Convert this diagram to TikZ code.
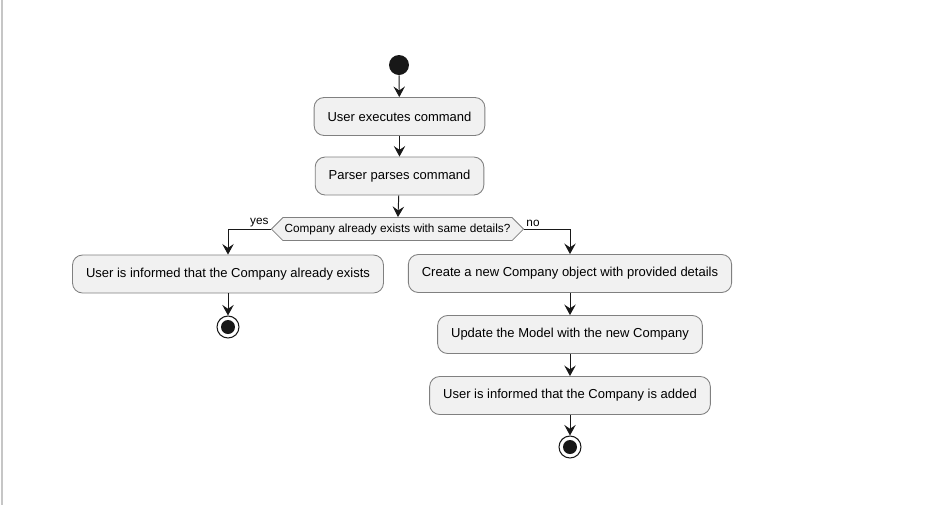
\documentclass[tikz,border=0pt]{standalone}
\usepackage{fontspec}
\setmainfont{Liberation Sans}
\usetikzlibrary{arrows.meta,shapes.symbols}
\definecolor{actfill}{HTML}{F1F1F1}
\definecolor{actline}{HTML}{181818}

\begin{document}
\begin{tikzpicture}[x=0.02cm,y=-0.02cm,
	act/.style={draw=actline!55, fill=actfill, rounded corners=0.2cm, inner xsep=0.27cm, minimum height=0.76cm, line width=0.5pt, font=\fontsize{7.4}{9}\selectfont},
	decision/.style={draw=actline!55, fill=actfill, signal, signal to=west and east, inner xsep=1pt, inner ysep=1pt, minimum height=0.46cm, line width=0.5pt, font=\fontsize{6.7}{8}\selectfont},
	flow/.style={draw=actline, line width=0.55pt, -{Stealth[length=6pt, width=6.5pt, inset=2.2pt]}},
	startdot/.style={circle, fill=actline, minimum size=0.4cm, inner sep=0pt},
	enddot/.style={circle, draw=actline, line width=0.6pt, fill=white, minimum size=0.44cm, inner sep=0pt,
		path picture={\fill[actline] (path picture bounding box.center) circle (0.14cm);}},
	guard/.style={font=\fontsize{6.7}{8}\selectfont, inner sep=1pt}]
		%%%%% frame %%%%%
		\useasboundingbox (0,0) rectangle (938,505);
		\draw[gray!45, line width=0.7pt] (2,0) -- (2,505);
		
		%%%%% main line %%%%%
		\node[startdot] (start) at (399,65) {};
		\node[act] (exec) at (399.5,116.5) {User executes command};
		\node[act] (parse) at (399.5,176) {Parser parses command};
		\node[decision] (check) at (397.5,229) {Company already exists with same details?};
		
		%%%%% yes branch %%%%%
		\node[act] (exists) at (228,274) {User is informed that the Company already exists};
		\node[enddot] (endyes) at (228,327) {};
		
		%%%%% no branch %%%%%
		\node[act] (create) at (570,273.5) {Create a new Company object with provided details};
		\node[act] (update) at (570,334.5) {Update the Model with the new Company};
		\node[act] (added) at (570,395.5) {User is informed that the Company is added};
		\node[enddot] (endno) at (570,447) {};
		
		%%%%% connectors %%%%%
		\draw[flow] (start) -- (exec);
		\draw[flow] (exec) -- (parse);
		\draw[flow] (parse) -- (check);
		\draw[flow] (check.west) -| node[guard, pos=0, anchor=south east] {yes} (exists.north);
		\draw[flow] (check.east) -| node[guard, pos=0, anchor=south west] {no} (create.north);
		\draw[flow] (exists) -- (endyes);
		\draw[flow] (create) -- (update);
		\draw[flow] (update) -- (added);
		\draw[flow] (added) -- (endno);
\end{tikzpicture}
\end{document}
